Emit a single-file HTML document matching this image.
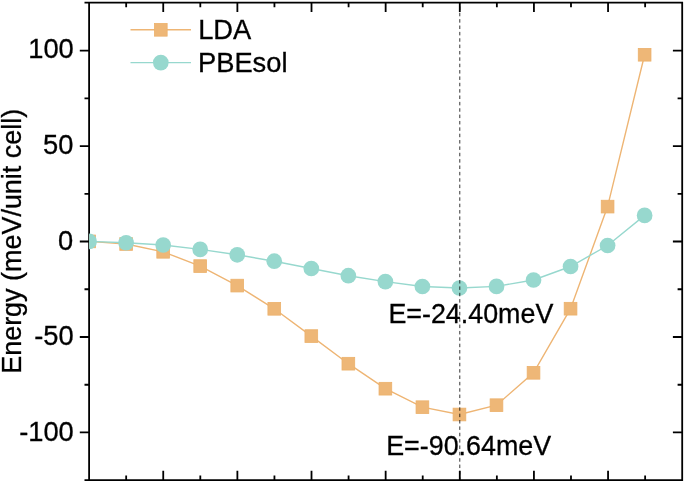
<!DOCTYPE html><html><head><meta charset="utf-8"><title>Energy</title><style>html,body{margin:0;padding:0;background:#fff}svg{display:block}text{font-family:"Liberation Sans",Arial,sans-serif;fill:#000;stroke:#000;stroke-width:0.3}</style></head><body>
<svg width="685" height="483" viewBox="0 0 685 483">
<rect width="685" height="483" fill="#fff"/>
<defs><clipPath id="c"><rect x="89.1" y="2.7" width="593.1" height="477.45"/></clipPath></defs>
<path d="M89.1 2.7H682.2V480.15H89.1Z M126.17 2.7v4.6 M126.17 480.15v-4.6 M163.24 2.7v9.3 M163.24 480.15v-9.3 M200.31 2.7v4.6 M200.31 480.15v-4.6 M237.38 2.7v9.3 M237.38 480.15v-9.3 M274.44 2.7v4.6 M274.44 480.15v-4.6 M311.51 2.7v9.3 M311.51 480.15v-9.3 M348.58 2.7v4.6 M348.58 480.15v-4.6 M385.65 2.7v9.3 M385.65 480.15v-9.3 M422.72 2.7v4.6 M422.72 480.15v-4.6 M459.79 2.7v9.3 M459.79 480.15v-9.3 M496.86 2.7v4.6 M496.86 480.15v-4.6 M533.93 2.7v9.3 M533.93 480.15v-9.3 M570.99 2.7v4.6 M570.99 480.15v-4.6 M608.06 2.7v9.3 M608.06 480.15v-9.3 M645.13 2.7v4.6 M645.13 480.15v-4.6 M89.1 480.15h-4.6 M89.1 432.46h-9.3 M682.2 432.46h-9.3 M89.1 384.73h-4.6 M682.2 384.73h-4.6 M89.1 337.00h-9.3 M682.2 337.00h-9.3 M89.1 289.26h-4.6 M682.2 289.26h-4.6 M89.1 241.52h-9.3 M682.2 241.52h-9.3 M89.1 193.79h-4.6 M682.2 193.79h-4.6 M89.1 146.05h-9.3 M682.2 146.05h-9.3 M89.1 98.32h-4.6 M682.2 98.32h-4.6 M89.1 50.58h-9.3 M682.2 50.58h-9.3 M89.1 2.70h-4.6" fill="none" stroke="#000" stroke-width="1.8" stroke-linecap="butt" stroke-linejoin="miter"/>
<g clip-path="url(#c)">
<polyline points="89.10,241.40 126.13,244.00 163.17,251.80 200.20,266.10 237.24,285.60 274.27,308.80 311.31,336.10 348.35,363.70 385.38,388.70 422.41,407.20 459.45,414.50 496.49,405.20 533.52,372.80 570.55,308.70 607.59,206.60 644.62,54.75" fill="none" stroke="#EEB574" stroke-width="1.4"/>
<rect x="82.75" y="235.05" width="12.7" height="12.7" fill="#EEB777" stroke="#ECB16C" stroke-width="0.8"/>
<rect x="119.78" y="237.65" width="12.7" height="12.7" fill="#EEB777" stroke="#ECB16C" stroke-width="0.8"/>
<rect x="156.82" y="245.45" width="12.7" height="12.7" fill="#EEB777" stroke="#ECB16C" stroke-width="0.8"/>
<rect x="193.85" y="259.75" width="12.7" height="12.7" fill="#EEB777" stroke="#ECB16C" stroke-width="0.8"/>
<rect x="230.89" y="279.25" width="12.7" height="12.7" fill="#EEB777" stroke="#ECB16C" stroke-width="0.8"/>
<rect x="267.92" y="302.45" width="12.7" height="12.7" fill="#EEB777" stroke="#ECB16C" stroke-width="0.8"/>
<rect x="304.96" y="329.75" width="12.7" height="12.7" fill="#EEB777" stroke="#ECB16C" stroke-width="0.8"/>
<rect x="342.00" y="357.35" width="12.7" height="12.7" fill="#EEB777" stroke="#ECB16C" stroke-width="0.8"/>
<rect x="379.03" y="382.35" width="12.7" height="12.7" fill="#EEB777" stroke="#ECB16C" stroke-width="0.8"/>
<rect x="416.06" y="400.85" width="12.7" height="12.7" fill="#EEB777" stroke="#ECB16C" stroke-width="0.8"/>
<rect x="453.10" y="408.15" width="12.7" height="12.7" fill="#EEB777" stroke="#ECB16C" stroke-width="0.8"/>
<rect x="490.13" y="398.85" width="12.7" height="12.7" fill="#EEB777" stroke="#ECB16C" stroke-width="0.8"/>
<rect x="527.17" y="366.45" width="12.7" height="12.7" fill="#EEB777" stroke="#ECB16C" stroke-width="0.8"/>
<rect x="564.20" y="302.35" width="12.7" height="12.7" fill="#EEB777" stroke="#ECB16C" stroke-width="0.8"/>
<rect x="601.24" y="200.25" width="12.7" height="12.7" fill="#EEB777" stroke="#ECB16C" stroke-width="0.8"/>
<rect x="638.27" y="48.40" width="12.7" height="12.7" fill="#EEB777" stroke="#ECB16C" stroke-width="0.8"/>
<polyline points="89.10,241.40 126.13,242.75 163.17,245.00 200.20,249.40 237.24,254.80 274.27,261.20 311.31,268.50 348.35,275.70 385.38,281.60 422.41,286.50 459.45,288.00 496.49,286.40 533.52,280.00 570.55,266.50 607.59,245.50 644.62,215.40" fill="none" stroke="#97D8CE" stroke-width="1.4"/>
<circle cx="89.10" cy="241.40" r="7.85" fill="#97D8CE"/>
<circle cx="126.13" cy="242.75" r="7.85" fill="#97D8CE"/>
<circle cx="163.17" cy="245.00" r="7.85" fill="#97D8CE"/>
<circle cx="200.20" cy="249.40" r="7.85" fill="#97D8CE"/>
<circle cx="237.24" cy="254.80" r="7.85" fill="#97D8CE"/>
<circle cx="274.27" cy="261.20" r="7.85" fill="#97D8CE"/>
<circle cx="311.31" cy="268.50" r="7.85" fill="#97D8CE"/>
<circle cx="348.35" cy="275.70" r="7.85" fill="#97D8CE"/>
<circle cx="385.38" cy="281.60" r="7.85" fill="#97D8CE"/>
<circle cx="422.41" cy="286.50" r="7.85" fill="#97D8CE"/>
<circle cx="459.45" cy="288.00" r="7.85" fill="#97D8CE"/>
<circle cx="496.49" cy="286.40" r="7.85" fill="#97D8CE"/>
<circle cx="533.52" cy="280.00" r="7.85" fill="#97D8CE"/>
<circle cx="570.55" cy="266.50" r="7.85" fill="#97D8CE"/>
<circle cx="607.59" cy="245.50" r="7.85" fill="#97D8CE"/>
<circle cx="644.62" cy="215.40" r="7.85" fill="#97D8CE"/>
</g>
<line x1="459.79" y1="2.7" x2="459.79" y2="480.15" stroke="#000" stroke-width="0.8" stroke-dasharray="3.5 2.863" stroke-dashoffset="2.63"/>
<text x="73.8" y="58.28" font-size="27.3" text-anchor="end">100</text>
<text x="73.4" y="154.25" font-size="27.3" text-anchor="end">50</text>
<text x="73.3" y="249.62" font-size="27.3" text-anchor="end">0</text>
<text x="73.6" y="345.39" font-size="27.3" text-anchor="end">-50</text>
<text x="73.8" y="441.06" font-size="27.3" text-anchor="end">-100</text>
<text transform="translate(21.2 241.3) rotate(-90)" font-size="26.95" text-anchor="middle">Energy (meV/unit cell)</text>
<line x1="130.5" y1="29.8" x2="191" y2="29.8" stroke="#EEB574" stroke-width="1.4"/>
<rect x="154.45" y="23.45" width="12.7" height="12.7" fill="#EEB777" stroke="#ECB16C" stroke-width="0.8"/>
<line x1="130.5" y1="62.6" x2="191" y2="62.6" stroke="#97D8CE" stroke-width="1.4"/>
<circle cx="160.8" cy="62.6" r="7.85" fill="#97D8CE"/>
<text x="198.2" y="39.3" font-size="27.3">LDA</text>
<text x="198.0" y="71.8" font-size="27.3">PBEsol</text>
<text x="388.4" y="322.9" font-size="26.85">E=-24.40meV</text>
<text x="386.2" y="454.8" font-size="26.85">E=-90.64meV</text>
</svg></body></html>
